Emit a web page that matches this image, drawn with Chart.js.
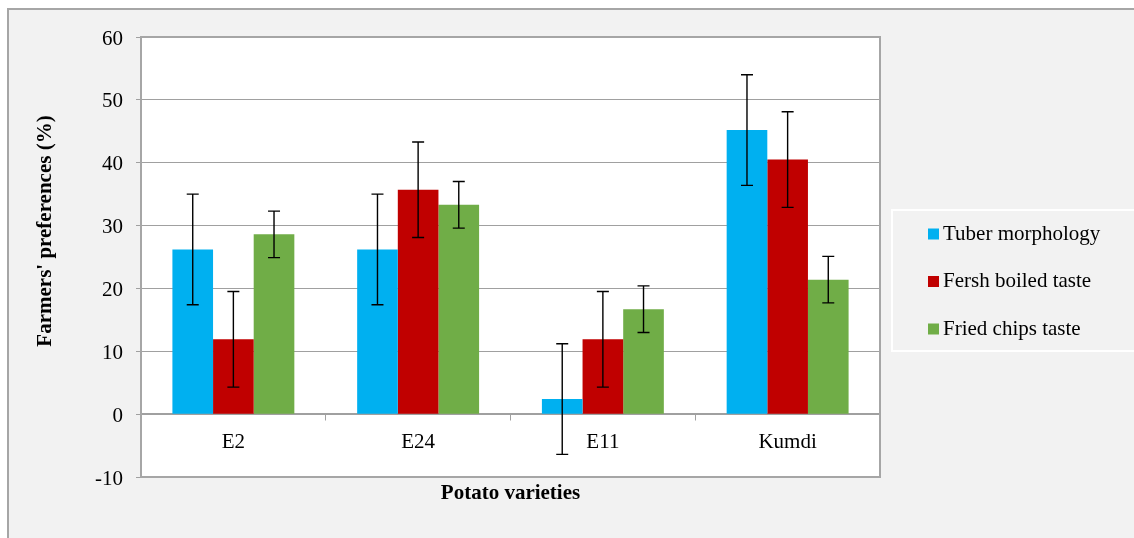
<!DOCTYPE html>
<html>
<head>
<meta charset="utf-8">
<script src="https://cdn.jsdelivr.net/npm/chart.js@4.4.0/dist/chart.umd.min.js"></script>
<style>
  html, body { margin: 0; padding: 0; background: #fff; }
  #frame { position: absolute; left: 7px; top: 8px; width: 1140px; height: 540px;
           background: #f2f2f2; border-left: 2px solid #a6a6a6; border-top: 2px solid #a6a6a6; }
  #myChart { position: absolute; left: 0; top: 0; }
</style>
</head>
<body>
<div id="frame"></div>
<canvas id="myChart" width="1134" height="538"></canvas>
<script>
const varieties = ['E2', 'E24', 'E11', 'Kumdi'];
const tuberMorphology = [26.2, 26.2, 2.4, 45.2];
const freshBoiled = [11.9, 35.7, 11.9, 40.5];
const friedChips = [28.6, 33.3, 16.7, 21.4];
const tuberErr = [8.8, 8.8, 8.8, 8.8];
const boiledErr = [7.6, 7.6, 7.6, 7.6];
const friedErr = [3.7, 3.7, 3.7, 3.7];
const yTicks = [-10, 0, 10, 20, 30, 40, 50, 60];

const serif = '"Liberation Serif", "Times New Roman", serif';

// error bars, drawn from the y scale
const errorBars = {
  id: 'errorBars',
  afterDatasetsDraw(chart) {
    const ctx = chart.ctx;
    const y = chart.scales.y;
    ctx.save();
    ctx.strokeStyle = '#000';
    ctx.lineWidth = 1.4;
    chart.data.datasets.forEach((ds, di) => {
      const meta = chart.getDatasetMeta(di);
      meta.data.forEach((bar, i) => {
        const v = ds.data[i], e = ds.errors[i];
        const top = y.getPixelForValue(v + e);
        const bot = y.getPixelForValue(v - e);
        ctx.beginPath();
        ctx.moveTo(bar.x, top); ctx.lineTo(bar.x, bot);
        ctx.moveTo(bar.x - 6, top); ctx.lineTo(bar.x + 6, top);
        ctx.moveTo(bar.x - 6, bot); ctx.lineTo(bar.x + 6, bot);
        ctx.stroke();
      });
    });
    ctx.restore();
  }
};

// white plot area, border, axis titles and legend box
const frame = {
  id: 'frame',
  beforeDraw(chart) {
    const {ctx, chartArea: a} = chart;
    ctx.save();
    ctx.fillStyle = '#fff';
    ctx.fillRect(a.left, a.top, a.right - a.left, a.bottom - a.top);
    ctx.restore();
  },
  afterDraw(chart) {
    const {ctx, chartArea: a} = chart;
    ctx.save();
    ctx.strokeStyle = '#a6a6a6';
    ctx.lineWidth = 2;
    ctx.strokeRect(a.left, a.top, a.right - a.left, a.bottom - a.top);

    ctx.fillStyle = '#000';
    ctx.font = 'bold 21px ' + serif;
    ctx.textAlign = 'center';
    ctx.textBaseline = 'middle';
    ctx.fillText('Potato varieties', (a.left + a.right) / 2, 494);
    ctx.translate(46, 231);
    ctx.rotate(-Math.PI / 2);
    ctx.fillText("Farmers' preferences (%)", 0, 0);
    ctx.restore();

    // legend
    ctx.save();
    ctx.strokeStyle = '#fff';
    ctx.lineWidth = 2;
    ctx.strokeRect(892, 210, 260, 141);
    ctx.font = '21px ' + serif;
    ctx.textAlign = 'left';
    ctx.textBaseline = 'middle';
    chart.data.datasets.forEach((ds, i) => {
      const cy = 234 + i * 47.5;
      ctx.fillStyle = ds.backgroundColor;
      ctx.fillRect(928, cy - 5.5, 11, 11);
      ctx.fillStyle = '#000';
      ctx.fillText(ds.label, 943, cy);
    });
    ctx.restore();
  }
};

const ctx = document.getElementById('myChart').getContext('2d');

new Chart(ctx, {
  type: 'bar',
  data: {
    labels: varieties,
    datasets: [
      { label: 'Tuber morphology', data: tuberMorphology, errors: tuberErr, backgroundColor: '#00b0f0' },
      { label: 'Fersh boiled taste', data: freshBoiled, errors: boiledErr, backgroundColor: '#c00000' },
      { label: 'Fried chips taste', data: friedChips, errors: friedErr, backgroundColor: '#70ad47' }
    ]
  },
  options: {
    responsive: false,
    animation: false,
    categoryPercentage: 0.66,
    barPercentage: 1,
    layout: { padding: { top: 37, right: 254, bottom: 61, left: 0 } },
    plugins: { legend: { display: false }, tooltip: { enabled: false } },
    scales: {
      x: {
        position: { y: 0 },
        grid: { offset: true, drawOnChartArea: false, drawTicks: true, tickLength: 6, color: '#a0a0a0' },
        border: { display: true, color: '#a0a0a0', width: 1.5 },
        ticks: { color: '#000', font: { family: serif, size: 21 }, padding: 10 }
      },
      y: {
        min: -10,
        max: 60,
        afterFit(scale) { scale.width = 141; },
        afterBuildTicks(scale) { scale.ticks = yTicks.map(v => ({ value: v })); },
        grid: { color: '#a0a0a0', lineWidth: 1, tickLength: 5 },
        border: { display: true, color: '#a6a6a6', width: 2 },
        ticks: { color: '#000', font: { family: serif, size: 21 }, padding: 13, labelOffset: 2 }
      }
    }
  },
  plugins: [frame, errorBars]
});
</script>
</body>
</html>
